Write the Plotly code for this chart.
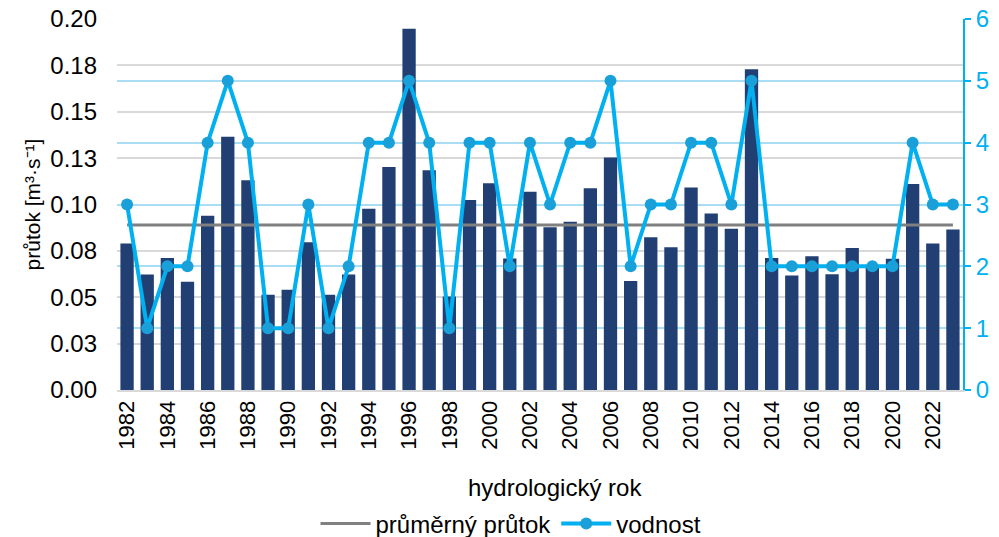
import plotly.graph_objects as go

years = list(range(1982, 2024))
prutok = [0.0790, 0.0622, 0.0712, 0.0583, 0.0939, 0.1365, 0.1131, 0.0514, 0.0541, 0.0797,
          0.0514, 0.0622, 0.0977, 0.1202, 0.1948, 0.1184, 0.0504, 0.1024, 0.1115, 0.0709,
          0.1069, 0.0877, 0.0907, 0.1087, 0.1254, 0.0588, 0.0824, 0.0770, 0.1092, 0.0952,
          0.0869, 0.1729, 0.0712, 0.0617, 0.0721, 0.0624, 0.0766, 0.0670, 0.0707, 0.1110,
          0.0790, 0.0865]
vodnost = [3, 1, 2, 2, 4, 5, 4, 1, 1, 3,
           1, 2, 4, 4, 5, 4, 1, 4, 4, 2,
           4, 3, 4, 4, 5, 2, 3, 3, 4, 4,
           3, 5, 2, 2, 2, 2, 2, 2, 2, 4,
           3, 3]
prumer = 0.0889
prumer_series = [prumer] * len(years)

left_tickvals = [0, 0.025, 0.05, 0.075, 0.1, 0.125, 0.15, 0.175, 0.2]
left_ticktext = ["0.00", "0.03", "0.05", "0.08", "0.10", "0.13", "0.15", "0.18", "0.20"]
x_tickvals = [y for y in years if y % 2 == 0]
right_tickvals = [0, 1, 2, 3, 4, 5, 6]

FONT = "Liberation Sans, Arial, sans-serif"
xcat = [str(y) for y in years]

# page has an 8px body margin; figure is sized/positioned to compensate
OFF = 8
W, H = 999 - OFF, 537 - OFF
PL, PR, PT, PB = 117 - OFF, 963 - OFF, 19 - OFF, 390 - OFF

fig = go.Figure()
fig.add_trace(go.Bar(x=xcat, y=prutok, marker=dict(color="#213F73", line=dict(width=0)),
                     showlegend=False, name="průtok", yaxis="y"))
fig.add_trace(go.Scatter(x=xcat, y=prumer_series, mode="lines", name="průměrný průtok",
                         line=dict(color="#808080", width=3), yaxis="y"))
fig.add_trace(go.Scatter(x=xcat, y=vodnost, mode="lines+markers", name="vodnost",
                         line=dict(color="#00B0F0", width=4),
                         marker=dict(color="#1AA0D8", size=12, line=dict(width=0)),
                         yaxis="y2"))

fig.update_layout(
    width=W, height=H,
    margin=dict(l=PL, r=W - PR, t=PT, b=H - PB, autoexpand=False),
    paper_bgcolor="white", plot_bgcolor="white",
    font=dict(family=FONT, size=24, color="#000000"),
    bargap=0.34,
    showlegend=True,
    legend=dict(orientation="h", x=(511 - OFF) / W, xanchor="center", xref="container",
                y=(H - (524 - OFF)) / H, yanchor="middle", yref="container",
                font=dict(size=24), tracegroupgap=0, itemwidth=50,
                bgcolor="rgba(0,0,0,0)"),
    xaxis=dict(type="category", tickvals=[str(v) for v in x_tickvals],
               tickangle=-90, showgrid=False, showline=True, linecolor="#D9D9D9",
               linewidth=2, ticks="", tickfont=dict(size=22, color="#000000"),
               range=[-0.5, len(years) - 0.5], fixedrange=True, automargin=False),
    yaxis=dict(range=[0, 0.2], tickvals=left_tickvals, ticktext=left_ticktext,
               showgrid=True, gridcolor="#D9D9D9", gridwidth=1.5, zeroline=False,
               showline=False, ticks="", ticklabelstandoff=19, automargin=False,
               ticklabeloverflow="allow",
               tickfont=dict(size=24, color="#000000"),
               title=dict(text="průtok [m³·s⁻¹]", font=dict(size=21), standoff=3)),
    yaxis2=dict(range=[0, 6], tickvals=right_tickvals, overlaying="y", side="right",
                showgrid=True, gridcolor="#A8DDF3", gridwidth=1.5, zeroline=False,
                showline=True, linecolor="#00B0F0", linewidth=2, automargin=False,
                ticklabeloverflow="allow",
                ticks="outside", ticklen=6, tickcolor="#00B0F0", tickwidth=2,
                tickfont=dict(size=24, color="#00B0F0")),
    annotations=[dict(text="hydrologický rok", xref="paper", yref="paper",
                      x=(555 - 117) / (963 - 117), y=(390 - 487) / (390 - 19),
                      xanchor="center", yanchor="middle", showarrow=False,
                      font=dict(size=24, color="#000000"))],
)

fig.write_html("out.html")
